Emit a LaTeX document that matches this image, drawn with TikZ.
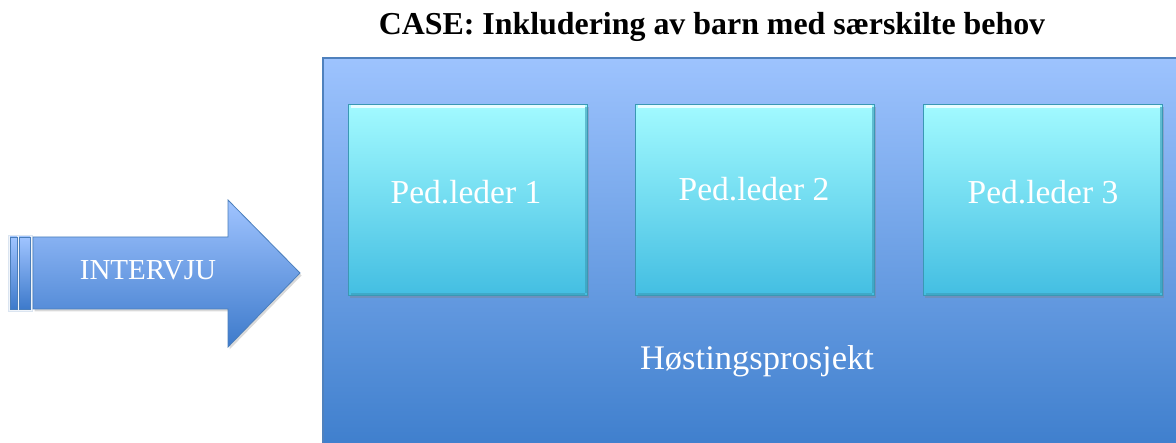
\documentclass[tikz,border=0pt]{standalone}
\usepackage{fontspec}
\setmainfont{Liberation Serif}
\usetikzlibrary{shadows}

\definecolor{paneltop}{HTML}{9DC3FE}
\definecolor{panelbot}{HTML}{3F7FCD}
\definecolor{paneledge}{HTML}{4F81BD}
\definecolor{boxtop}{HTML}{A2FAFF}
\definecolor{boxbot}{HTML}{43BEE2}
\definecolor{boxedge}{HTML}{3A98B4}
\definecolor{arrtop}{HTML}{A0C4FF}
\definecolor{arrbot}{HTML}{3D7ACB}
\definecolor{arredge}{HTML}{4A7EBB}

\tikzset{
  ledbox/.style={rectangle, minimum width=239pt, minimum height=191pt,
    top color=boxtop, bottom color=boxbot, draw=boxedge, line width=0.6pt,
    drop shadow={opacity=0.35, shadow xshift=1.5pt, shadow yshift=-2.5pt}},
  whitelabel/.style={text=white, font=\fontsize{33.5}{38}\selectfont, inner sep=0pt},
  arrowbody/.style={top color=arrtop, bottom color=arrbot, draw=arredge, line width=0.8pt},
  titletext/.style={font=\fontsize{31.9}{36}\selectfont\bfseries, inner sep=0pt}
}

\begin{document}
\begin{tikzpicture}[x=1pt,y=-1pt]
\useasboundingbox (0,0) rectangle (1176,443);

% title
\node[titletext] (title) at (712,27) {CASE: Inkludering av barn med særskilte behov};

% background panel of the harvesting project
\path[top color=paneltop, bottom color=panelbot] (323,58) rectangle (1180,446);
\draw[draw=paneledge, line width=1.5pt] (323,446) -- (323,58) -- (1180,58);
\node[whitelabel, font=\fontsize{34.5}{39}\selectfont] (proj) at (757,361) {Høstingsprosjekt};

% three leader boxes
\node[ledbox] (b1) at (468,200) {};
\node[ledbox] (b2) at (755,200) {};
\node[ledbox] (b3) at (1043,200) {};
\foreach \b in {b1,b2,b3}{
  \draw[white, opacity=0.75, line width=3pt]
    ([xshift=3pt,yshift=-2pt]\b.north west) -- ([xshift=-3pt,yshift=-2pt]\b.north east);
  \draw[boxedge, opacity=0.6, line width=2.5pt]
    ([xshift=-2pt,yshift=-3pt]\b.north east) -- ([xshift=-2pt,yshift=3pt]\b.south east);
  \draw[boxedge, opacity=0.55, line width=2.5pt]
    ([xshift=3pt,yshift=2pt]\b.south west) -- ([xshift=-3pt,yshift=2pt]\b.south east);
}
\node[whitelabel] (l1) at (466,192) {Ped.leder 1};
\node[whitelabel] (l2) at (754,189) {Ped.leder 2};
\node[whitelabel] (l3) at (1043,192) {Ped.leder 3};

% interview arrow with striped tail
\path[draw=white!80!arredge, line width=0.6pt, fill=white!92!arredge] (8,235) rectangle (32,311);
\fill[arrowbody] (10,237) rectangle (17,309);
\fill[arrowbody] (19,237) rectangle (30,309);
\path[arrowbody, drop shadow={opacity=0.3, shadow xshift=1.5pt, shadow yshift=-2.5pt}]
  (33,237) -- (228,237) -- (228,200) -- (300,273) -- (228,347) -- (228,309) -- (33,309) -- cycle;
\node[whitelabel, font=\fontsize{29}{34}\selectfont] (iv) at (148,270) {INTERVJU};
\end{tikzpicture}
\end{document}
